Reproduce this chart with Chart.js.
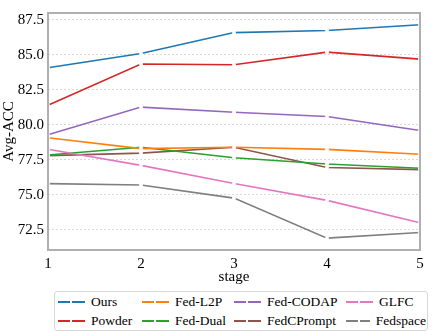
<html>
<head>
<script src="https://cdn.jsdelivr.net/npm/chart.js"></script>
<style>
  body { margin: 0; background: #fff; }
  #wrap { position: relative; width: 436px; height: 334px; }
  #box { position: absolute; left: 0; top: 0; width: 436px; height: 286px; }
  #legend {
    position: absolute; left: 54px; top: 291px; width: 374px; height: 40px;
    border: 1px solid #d8d8d8; border-radius: 3px; box-sizing: border-box;
    display: grid; grid-template-columns: 84px 92px 112px 80px;
    padding: 1px 0 0 3px; font-family: "Liberation Serif", serif; font-size: 13.5px;
  }
  .item { display: flex; align-items: center; height: 18px; white-space: nowrap; }
  .sw { width: 27px; height: 2px; margin-right: 6px; position: relative; }
  .sw i { position: absolute; left: 12px; top: -1px; width: 2px; height: 4px; background: #fff; }
</style>
</head>
<body>
<div id="wrap">
  <div id="box"><canvas id="myChart" width="436" height="286"></canvas></div>
  <div id="legend"></div>
</div>
<script>
var stages = ["1", "2", "3", "4", "5"];
var yTicks = [72.5, 75.0, 77.5, 80.0, 82.5, 85.0, 87.5];

var ours = [84.08, 85.1, 86.6, 86.75, 87.16];
var powder = [81.4, 84.35, 84.3, 85.2, 84.7];
var fedL2P = [79.08, 78.3, 78.4, 78.25, 77.9];
var fedDual = [77.84, 78.4, 77.65, 77.2, 76.9];
var fedCODAP = [79.3, 81.27, 80.9, 80.6, 79.6];
var fedCPrompt = [77.8, 77.98, 78.4, 76.95, 76.8];
var glfc = [78.25, 77.1, 75.8, 74.6, 73.0];
var fedspace = [75.8, 75.7, 74.76, 71.9, 72.3];

// legend order follows the reference (row by row)
var series = [
  ["Ours", ours, "#1f77b4"],
  ["Fed-L2P", fedL2P, "#ff7f0e"],
  ["Fed-CODAP", fedCODAP, "#9467bd"],
  ["GLFC", glfc, "#e377c2"],
  ["Powder", powder, "#d62728"],
  ["Fed-Dual", fedDual, "#2ca02c"],
  ["FedCPrompt", fedCPrompt, "#8c564b"],
  ["Fedspace", fedspace, "#7f7f7f"]
];

var datasets = series.map(function (s) {
  return {
    label: s[0], data: s[1], borderColor: s[2], backgroundColor: s[2],
    borderWidth: 1.6, tension: 0, pointRadius: 1.6, pointBorderWidth: 0.8,
    pointBackgroundColor: "#fff", pointBorderColor: "#fff"
  };
});

var frame = {
  id: "frame",
  afterDraw: function (chart) {
    var a = chart.chartArea, c = chart.ctx;
    c.save();
    c.strokeStyle = "#b0b0b0";
    c.lineWidth = 2;
    c.strokeRect(a.left, a.top, a.right - a.left, a.bottom - a.top);
    c.restore();
  }
};

Chart.defaults.font.family = "'Liberation Serif', serif";
Chart.defaults.font.size = 15;
Chart.defaults.color = "#000";

const ctx = document.getElementById("myChart").getContext("2d");
window.myLine = new Chart(ctx, {
  type: "line",
  data: { labels: stages, datasets: datasets },
  options: {
    responsive: false,
    animation: false,
    layout: { padding: { top: 3, right: 16, left: 0, bottom: 0 } },
    plugins: { legend: { display: false }, tooltip: { enabled: false } },
    scales: {
      x: {
        offset: false,
        grid: { display: false, drawTicks: false },
        border: { display: false },
        ticks: { padding: 5, maxRotation: 0 },
        title: { display: true, text: "stage", padding: { top: -2, bottom: 0 } },
        afterFit: function (s) { s.height = 36; }
      },
      y: {
        min: 71.05, max: 88.0,
        afterBuildTicks: function (s) { s.ticks = yTicks.map(function (v) { return { value: v }; }); },
        grid: { color: "#d0d0d0", lineWidth: 0.8, drawTicks: false },
        border: { display: false, dash: [2, 2] },
        ticks: {
          padding: 4,
          callback: function (v) { return Number(v).toFixed(1); }
        },
        title: { display: true, text: "Avg-ACC", padding: { top: 0, bottom: 2 } },
        afterFit: function (s) { s.width = 48; }
      }
    }
  },
  plugins: [frame]
});

var lg = document.getElementById("legend");
series.forEach(function (s) {
  var d = document.createElement("div");
  d.className = "item";
  d.innerHTML = '<span class="sw" style="background:' + s[2] + '"><i></i></span>' + s[0];
  lg.appendChild(d);
});
</script>
</body>
</html>
